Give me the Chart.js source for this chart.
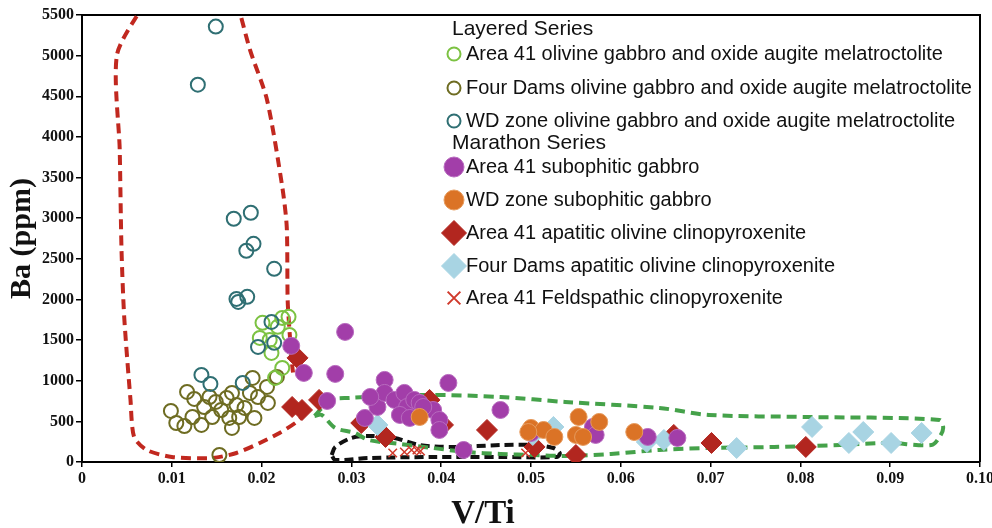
<!DOCTYPE html>
<html>
<head>
<meta charset="utf-8">
<script src="https://cdn.jsdelivr.net/npm/chart.js@4.4.0/dist/chart.umd.min.js"></script>
<style>
  html, body { margin: 0; padding: 0; background: #fff; }
  #wrap { width: 992px; height: 528px; }
</style>
</head>
<body>
<div id="wrap"><canvas id="chart" width="992" height="528"></canvas></div>
<script>
// Ba (ppm) vs V/Ti, Coldwell Complex layered / Marathon series

const xTickLabels = ['0', '0.01', '0.02', '0.03', '0.04', '0.05', '0.06', '0.07', '0.08', '0.09', '0.10'];
const yTickLabels = ['0', '500', '1000', '1500', '2000', '2500', '3000', '3500', '4000', '4500', '5000', '5500'];

// [V/Ti, Ba]
const area41Olivine = [
  [0.0201, 1712], [0.0223, 1773], [0.0230, 1786], [0.0198, 1527], [0.0209, 1502],
  [0.0211, 1342], [0.0231, 1564], [0.0223, 1158], [0.0215, 1034], [0.0218, 1663]
];
const fourDamsOlivine = [
  [0.0099, 628], [0.0105, 480], [0.0114, 443], [0.0117, 862], [0.0125, 776],
  [0.0123, 554], [0.0133, 456], [0.0136, 677], [0.0142, 800], [0.0149, 739],
  [0.0155, 640], [0.0161, 788], [0.0167, 850], [0.0172, 702], [0.0167, 419],
  [0.0175, 554], [0.0181, 665], [0.0187, 850], [0.0190, 1034], [0.0192, 542],
  [0.0196, 800], [0.0206, 924], [0.0207, 727], [0.0217, 1047], [0.0153, 86],
  [0.0145, 554], [0.0164, 542]
];
const wdOlivine = [
  [0.0149, 5357], [0.0129, 4643], [0.0169, 2993], [0.0188, 3067], [0.0191, 2685],
  [0.0183, 2599], [0.0214, 2377], [0.0172, 2007], [0.0174, 1970], [0.0184, 2032],
  [0.0211, 1724], [0.0214, 1466], [0.0196, 1416], [0.0133, 1071], [0.0143, 961],
  [0.0179, 973]
];
const area41Subophitic = [
  [0.0233, 1429], [0.0247, 1096], [0.0282, 1084], [0.0293, 1601], [0.0273, 751],
  [0.0337, 1010], [0.0408, 973], [0.0466, 640], [0.0315, 542], [0.0329, 677],
  [0.0337, 850], [0.0348, 764], [0.0359, 850], [0.0362, 677], [0.0370, 764],
  [0.0376, 727], [0.0354, 579], [0.0365, 542], [0.0391, 640], [0.0398, 517],
  [0.0398, 394], [0.0425, 148], [0.0500, 357], [0.0569, 431], [0.0572, 333],
  [0.0630, 308], [0.0663, 296], [0.0321, 800], [0.0380, 677]
];
const wdSubophitic = [
  [0.0376, 554], [0.0500, 419], [0.0514, 394], [0.0526, 308], [0.0553, 554],
  [0.0550, 333], [0.0558, 308], [0.0576, 493], [0.0615, 369], [0.0497, 369]
];
const area41Apatitic = [
  [0.0240, 1281], [0.0234, 677], [0.0245, 640], [0.0264, 764], [0.0311, 480],
  [0.0338, 308], [0.0387, 764], [0.0402, 456], [0.0451, 394], [0.0504, 185],
  [0.0550, 86], [0.0659, 333], [0.0701, 234], [0.0806, 185]
];
const fourDamsApatitic = [
  [0.0329, 456], [0.0525, 431], [0.0502, 333], [0.0629, 246], [0.0648, 271],
  [0.0729, 172], [0.0813, 431], [0.0854, 234], [0.0870, 369], [0.0901, 234],
  [0.0935, 357]
];
const area41Feldspathic = [
  [0.0346, 111], [0.0359, 123], [0.0367, 148], [0.0373, 148], [0.0377, 135],
  [0.0494, 111]
];

// dashed envelopes
const redFieldLeft = [
  [0.0070, 5653], [0.0039, 5012], [0.0042, 3842], [0.0044, 2611], [0.0047, 1786],
  [0.0054, 764], [0.0058, 308], [0.0072, 148], [0.0100, 62], [0.0145, 49],
  [0.0172, 111], [0.0198, 234], [0.0220, 357], [0.0239, 493], [0.0250, 616]
];
const redFieldRight = [
  [0.0173, 5653], [0.0187, 5074], [0.0206, 4458], [0.0223, 3387], [0.0228, 2894],
  [0.0229, 1995], [0.0231, 1626], [0.0234, 1195], [0.0235, 1100]
];
const greenField = [
  [0.0259, 566], [0.0277, 764], [0.0297, 788], [0.0384, 825], [0.0466, 800],
  [0.0538, 739], [0.0643, 665], [0.0698, 579], [0.0808, 554], [0.0955, 517],
  [0.0959, 419], [0.0955, 308], [0.0946, 209], [0.0899, 234], [0.0844, 209],
  [0.0771, 185], [0.0698, 172], [0.0643, 148], [0.0589, 99], [0.0538, 74],
  [0.0504, 86], [0.0466, 99], [0.0428, 123], [0.0391, 172], [0.0354, 222],
  [0.0319, 271], [0.0304, 357], [0.0282, 419], [0.0267, 579], [0.0259, 566]
];
const blackField = [
  [0.0278, 86], [0.0282, 185], [0.0300, 296], [0.0321, 320], [0.0348, 296],
  [0.0376, 209], [0.0414, 185], [0.0466, 209], [0.0504, 209], [0.0525, 172],
  [0.0532, 111], [0.0529, 62], [0.0466, 62], [0.0391, 62], [0.0319, 49],
  [0.0282, 25], [0.0278, 86]
];

const toXY = pts => pts.map(([x, y]) => ({ x, y }));

const hollow = (label, data, color, order) => ({
  label, data: toXY(data), order,
  pointStyle: 'circle', pointRadius: 7, pointHoverRadius: 7,
  borderColor: color, backgroundColor: 'rgba(0,0,0,0)', borderWidth: 2,
  legendRadius: 6.5
});

const filled = (label, data, fill, edge, style, radius, order, legendRadius) => ({
  label, data: toXY(data), order,
  pointStyle: style, pointRadius: radius, pointHoverRadius: radius,
  backgroundColor: fill, borderColor: edge, borderWidth: 1,
  legendRadius
});

const envelope = (data, color, dash, tension) => ({
  data: toXY(data), order: 20, envelope: true,
  showLine: true, pointRadius: 0, pointHoverRadius: 0,
  borderColor: color, borderWidth: 4, borderDash: dash, tension,
  borderCapStyle: 'butt', fill: false
});

const datasets = [
  hollow('Area 41 olivine gabbro and oxide augite melatroctolite', area41Olivine, '#7cc242', 6),
  hollow('Four Dams olivine gabbro and oxide augite melatroctolite', fourDamsOlivine, '#6e6c22', 7),
  hollow('WD zone olivine gabbro and oxide augite melatroctolite', wdOlivine, '#2f6f73', 5),
  filled('Area 41 subophitic gabbro', area41Subophitic, '#a23ea9', '#b86bbf', 'circle', 8.5, 2, 10),
  filled('WD zone subophitic gabbro', wdSubophitic, '#db7326', '#e69b5e', 'circle', 8.5, 1, 10),
  filled('Area 41 apatitic olivine clinopyroxenite', area41Apatitic, '#b2261f', '#b2261f', 'rectRot', 10.5, 4, 12.5),
  filled('Four Dams apatitic olivine clinopyroxenite', fourDamsApatitic, '#a8d4e3', '#a8d4e3', 'rectRot', 10.5, 3, 12.5),
  {
    label: 'Area 41 Feldspathic clinopyroxenite', data: toXY(area41Feldspathic), order: 0,
    pointStyle: 'crossRot', pointRadius: 6, pointHoverRadius: 6,
    borderColor: '#d0392b', backgroundColor: '#d0392b', borderWidth: 1.5,
    legendRadius: 9
  },
  envelope(redFieldLeft, '#c1281f', [10, 6], 0.25),
  envelope(redFieldRight, '#c1281f', [10, 6], 0.25),
  envelope(greenField, '#45a24a', [10, 6], 0.3),
  envelope(blackField, '#111111', [9, 5], 0.3)
];

// legend layout: section headings and dataset rows
const legendRows = [
  { heading: 'Layered Series', y: 29 },
  { ds: 0, y: 54 },
  { ds: 1, y: 88 },
  { ds: 2, y: 121 },
  { heading: 'Marathon Series', y: 143 },
  { ds: 3, y: 167 },
  { ds: 4, y: 200 },
  { ds: 5, y: 233 },
  { ds: 6, y: 266 },
  { ds: 7, y: 298 }
];

const frameAndLegend = {
  id: 'frameAndLegend',
  beforeDatasetsDraw(chart) {
    const { ctx, chartArea: a } = chart;
    ctx.save();
    ctx.strokeStyle = '#000';
    ctx.lineWidth = 2;
    ctx.beginPath();
    ctx.moveTo(a.left, a.top);
    ctx.lineTo(a.right, a.top);
    ctx.lineTo(a.right, a.bottom);
    ctx.stroke();
    ctx.restore();
  },
  afterDraw(chart) {
    const ctx = chart.ctx;
    ctx.save();
    ctx.textBaseline = 'middle';
    ctx.fillStyle = '#111';
    legendRows.forEach(row => {
      if (row.heading) {
        ctx.font = '21px "Liberation Sans", Arial, sans-serif';
        ctx.fillStyle = '#111';
        ctx.fillText(row.heading, 452, row.y);
        return;
      }
      const ds = chart.data.datasets[row.ds];
      ctx.fillStyle = ds.backgroundColor;
      ctx.strokeStyle = ds.borderColor;
      ctx.lineWidth = ds.pointStyle === 'crossRot' ? 2 : ds.borderWidth;
      Chart.helpers.drawPoint(ctx, {
        pointStyle: ds.pointStyle, radius: ds.legendRadius, rotation: 0,
        borderWidth: ctx.lineWidth
      }, 454, row.y);
      ctx.font = '20px "Liberation Sans", Arial, sans-serif';
      ctx.fillStyle = '#111';
      ctx.fillText(ds.label, 466, row.y);
    });
    // x axis title
    ctx.font = 'bold 33px "Liberation Serif", serif';
    ctx.textAlign = 'center';
    ctx.fillText('V/Ti', 483, 514);
    ctx.restore();
  }
};

const tickFont = { family: '"Liberation Serif", serif', size: 16, weight: 'bold' };

new Chart(document.getElementById('chart'), {
  type: 'scatter',
  data: { datasets },
  plugins: [frameAndLegend],
  options: {
    responsive: false,
    animation: false,
    layout: { padding: { top: 15, right: 12, bottom: 0, left: 0 } },
    plugins: {
      legend: { display: false },
      tooltip: { enabled: true }
    },
    scales: {
      x: {
        type: 'linear',
        min: 0,
        max: 0.1,
        ticks: {
          stepSize: 0.01,
          color: '#111',
          font: tickFont,
          padding: 2,
          maxRotation: 0,
          callback: (v, i) => xTickLabels[i]
        },
        grid: { display: true, drawOnChartArea: false, drawTicks: true, tickLength: 5, color: '#000', lineWidth: 1.5 },
        border: { display: true, color: '#000', width: 2 },
        afterFit: scale => { scale.height = 66; scale.paddingLeft = 0; scale.paddingRight = 0; }
      },
      y: {
        type: 'linear',
        min: 0,
        max: 5500,
        ticks: {
          stepSize: 500,
          color: '#111',
          font: tickFont,
          padding: 2,
          callback: (v, i) => yTickLabels[i]
        },
        title: {
          display: true,
          text: 'Ba (ppm)',
          color: '#111',
          font: { family: '"Liberation Serif", serif', size: 30, weight: 'bold' },
          padding: { top: 4, bottom: 0 }
        },
        grid: { display: true, drawOnChartArea: false, drawTicks: true, tickLength: 6, color: '#000', lineWidth: 1.5 },
        border: { display: true, color: '#000', width: 2 },
        afterFit: scale => { scale.width = 82; scale.paddingTop = 0; scale.paddingBottom = 0; }
      }
    }
  }
});
</script>
</body>
</html>
